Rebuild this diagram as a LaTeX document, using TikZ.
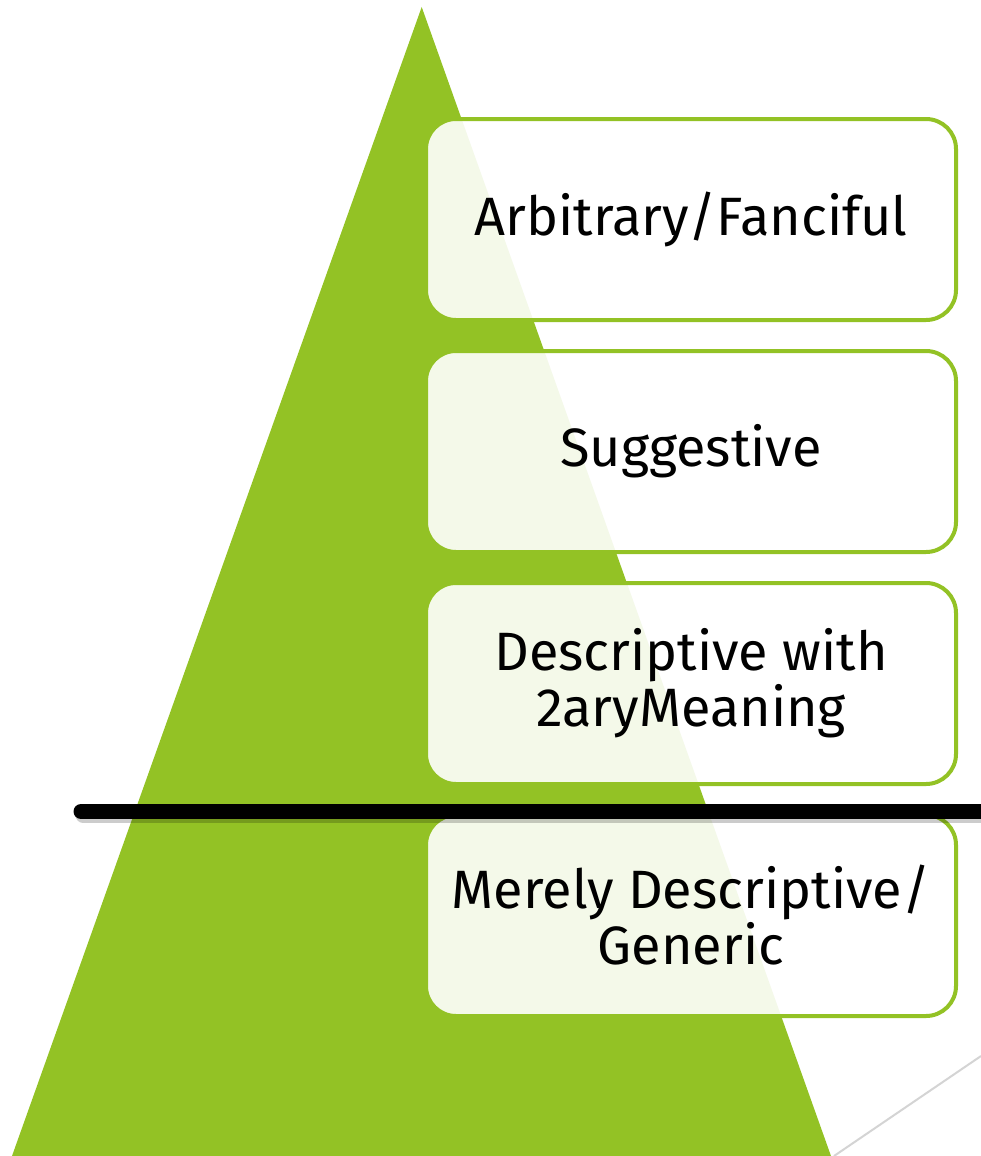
\documentclass[tikz,border=0pt]{standalone}
\usepackage{fontspec}
\setmainfont{Fira Sans}
\usetikzlibrary{positioning}
\definecolor{leafgreen}{HTML}{93C225}
\definecolor{shadowgray}{HTML}{D4D4D4}
\tikzset{
  tier/.style={draw=leafgreen,line width=4pt,fill=white,fill opacity=0.9,text opacity=1,
    rounded corners=30pt,minimum width=530pt,minimum height=201pt,inner sep=0pt,
    align=center,font=\fontsize{54}{56}\selectfont},
  bar/.style={line width=15pt,line cap=round}
}

\begin{document}
\begin{tikzpicture}[x=1pt,y=-1pt]

    % -- Canvas, in pixels of the slide --
    \def\wmax{981}
    \def\hmax{1156}
    \useasboundingbox (0,0) rectangle (\wmax,\hmax);

    % -- The pyramid --
    \fill [leafgreen] (421.7,7) -- (831,\hmax) -- (12,\hmax) -- cycle;

    % -- The four tiers, top to bottom --
    \node[tier] (arbitrary) at (691,219.5) {Arbitrary/Fanciful};
    \node[tier, below=27pt of arbitrary] (suggestive) {Suggestive};
    \node[tier, below=27pt of suggestive] (secondary) {Descriptive with\\2aryMeaning};
    \node[tier, below=27pt of secondary] (generic) {Merely Descriptive/\\Generic};

    % -- Dividing bar between the protectable and the unprotectable --
    \draw[bar, black, opacity=0.2] (83,815) -- (\wmax+20,815);  % soft shadow
    \draw[bar, black] (81,811.5) -- (\wmax+20,811.5);

    % -- Corner line at the bottom right --
    \draw[shadowgray, line width=2pt] (834,\hmax) -- (\wmax,1056);

\end{tikzpicture}
\end{document}
